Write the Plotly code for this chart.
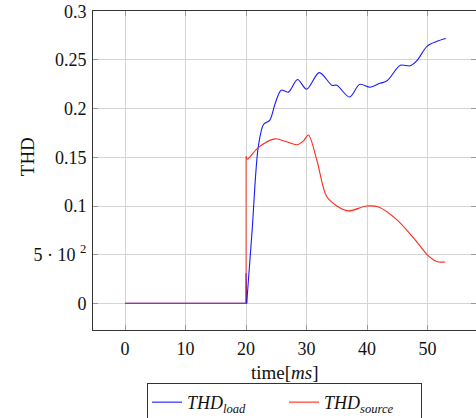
import plotly.graph_objects as go

# THD of load current
t_load_flat = [0, 20.0, 20.0, 20.1]
v_load_flat = [0, 0, 0.031, 0.0]
t_load = [20.1, 21.0, 22.0, 22.9, 23.9, 24.8, 25.8, 27.0, 28.5, 30.0, 32.1, 34.2, 35.0, 37.1, 38.8, 40.5, 42.1, 43.3, 45.5, 47.1, 48.2, 49.9, 51.5, 53.0]
v_load = [0.0, 0.075, 0.16, 0.184, 0.188, 0.205, 0.219, 0.217, 0.230, 0.220, 0.237, 0.224, 0.224, 0.212, 0.225, 0.222, 0.226, 0.2286, 0.2446, 0.244, 0.249, 0.264, 0.269, 0.272]

# THD of source current
t_src_flat = [0, 20.0, 20.0]
v_src_flat = [0, 0, 0.151]
t_src = [20.0, 20.2, 22.0, 24.8, 26.7, 28.4, 29.5, 30.3, 31.7, 33.3, 35.0, 36.9, 39.9, 41.9, 44.9, 47.7, 50.1, 51.5, 52.9]
v_src = [0.151, 0.148, 0.160, 0.169, 0.166, 0.163, 0.167, 0.173, 0.147, 0.110, 0.100, 0.095, 0.100, 0.099, 0.086, 0.067, 0.049, 0.043, 0.0425]

ytick_vals = [0, 0.05, 0.1, 0.15, 0.2, 0.25, 0.3]
ytick_text = ["0", "5 · 10 <sup>2</sup>", "0.1", "0.15", "0.2", "0.25", "0.3"]
xtick_vals = [0, 10, 20, 30, 40, 50]

FONT = "Liberation Serif, DejaVu Serif, serif"
BLUE = "#1a1aff"
RED = "#ff2a1a"

fig = go.Figure()
fig.add_trace(go.Scatter(x=t_load_flat, y=v_load_flat, mode="lines",
                         line=dict(color=BLUE, width=1.1), legendgroup="load",
                         showlegend=False, hoverinfo="skip"))
fig.add_trace(go.Scatter(x=t_src_flat, y=v_src_flat, mode="lines",
                         line=dict(color=RED, width=1.1), legendgroup="src",
                         showlegend=False, hoverinfo="skip", opacity=0.85))
fig.add_trace(go.Scatter(x=t_load, y=v_load, mode="lines", legendgroup="load",
                         line=dict(color=BLUE, width=1.1, shape="spline", smoothing=0.9),
                         name="<i>THD</i><sub><i>load</i></sub>"))
fig.add_trace(go.Scatter(x=t_src, y=v_src, mode="lines", legendgroup="src",
                         line=dict(color=RED, width=1.1, shape="spline", smoothing=0.9),
                         name="<i>THD</i><sub><i>source</i></sub>"))

def axis_common():
    return dict(showgrid=True, gridcolor="#d4d4d4", gridwidth=1,
                showline=True, linecolor="#333", linewidth=1, mirror="ticks",
                ticks="inside", ticklen=5, tickcolor="#999", zeroline=False,
                ticklabeloverflow="allow",
                tickfont=dict(family=FONT, size=18, color="#111"))

fig.update_layout(
    width=476, height=418,
    margin=dict(l=93, r=0, t=11, b=88, autoexpand=False),
    paper_bgcolor="white", plot_bgcolor="white",
    font=dict(family=FONT, size=18, color="#111"),
    xaxis=dict(range=[-5.3, 58.0], tickvals=xtick_vals, ticklabelstandoff=2, **axis_common()),
    yaxis=dict(range=[-0.0273, 0.3003], tickvals=ytick_vals, ticktext=ytick_text,
               ticklabelstandoff=2, **axis_common()),
    legend=dict(orientation="h", x=0.5, xanchor="center", y=-0.166, yanchor="top",
                bordercolor="#333", borderwidth=1, bgcolor="white",
                font=dict(family=FONT, size=18, color="#111"), itemwidth=30,
                entrywidth=92, entrywidthmode="pixels", tracegroupgap=0),
    annotations=[
        dict(text="time[<i>ms</i>]", xref="paper", yref="paper", x=0.5, y=-0.132,
             xanchor="center", yanchor="middle", showarrow=False,
             font=dict(family=FONT, size=19, color="#111")),
        dict(text="THD", xref="paper", yref="paper", x=-0.172, y=0.542,
             xanchor="center", yanchor="middle", showarrow=False, textangle=-90,
             font=dict(family=FONT, size=19, color="#111")),
    ],
)

# remove the browser's default 8px body margin so the figure fills the window exactly
fig.write_html("out.html", config={"displayModeBar": False},
               post_script="document.body.style.margin='0';document.body.style.overflow='hidden';")
